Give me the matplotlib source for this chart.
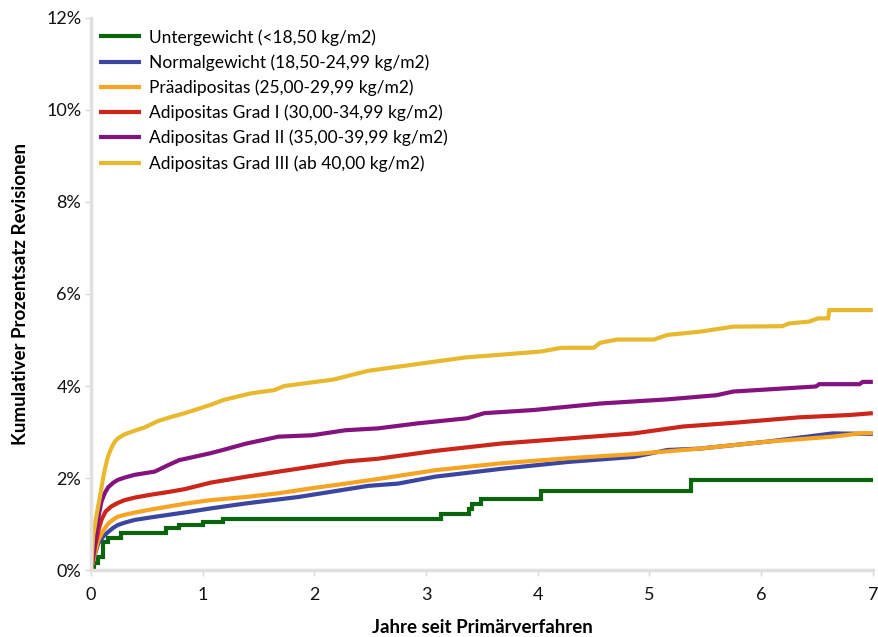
import numpy as np
import matplotlib.pyplot as plt

# Daten: Jahre, kumulativer Prozentsatz
labels = [
    "Untergewicht (<18,50 kg/m2)",
    "Normalgewicht (18,50-24,99 kg/m2)",
    "Präadipositas (25,00-29,99 kg/m2)",
    "Adipositas Grad I (30,00-34,99 kg/m2)",
    "Adipositas Grad II (35,00-39,99 kg/m2)",
    "Adipositas Grad III (ab 40,00 kg/m2)",
]
colors = ["#0b650f", "#3a46a2", "#f5a423", "#cc2519", "#84137f", "#e8b92f"]

# Untergewicht: Treppenfunktion
t_unter = [0, 0.03, 0.06, 0.11, 0.15, 0.27, 0.67, 0.79, 1.0, 1.18, 3.13, 3.38, 3.41, 3.49, 4.03, 5.37, 7.0]
y_unter = [0, 0.15, 0.29, 0.62, 0.70, 0.80, 0.91, 0.98, 1.05, 1.10, 1.21, 1.32, 1.43, 1.55, 1.71, 1.96, 1.96]

t_normal = [0, 0.03, 0.065, 0.11, 0.154, 0.20, 0.24, 0.30, 0.39, 0.52, 0.69, 0.86, 1.07, 1.39, 1.86, 2.48, 2.75, 3.08, 3.67, 4.27, 4.86, 5.16, 5.45, 6.05, 6.64, 7.0]
y_normal = [0, 0.30, 0.58, 0.73, 0.83, 0.92, 0.98, 1.03, 1.09, 1.14, 1.20, 1.26, 1.34, 1.45, 1.59, 1.83, 1.88, 2.03, 2.20, 2.35, 2.46, 2.61, 2.64, 2.79, 2.97, 2.96]

t_prae = [0, 0.03, 0.065, 0.11, 0.154, 0.20, 0.24, 0.30, 0.39, 0.52, 0.69, 0.86, 1.07, 1.39, 1.68, 1.98, 2.28, 2.57, 3.08, 3.67, 4.27, 4.86, 5.45, 6.05, 6.64, 6.88, 7.0]
y_prae = [0, 0.32, 0.65, 0.86, 1.01, 1.10, 1.16, 1.20, 1.25, 1.31, 1.38, 1.45, 1.52, 1.59, 1.67, 1.78, 1.88, 1.98, 2.17, 2.32, 2.43, 2.52, 2.64, 2.79, 2.90, 2.97, 2.98]

t_grad1 = [0, 0.036, 0.07, 0.095, 0.13, 0.18, 0.24, 0.30, 0.40, 0.54, 0.70, 0.84, 1.07, 1.39, 1.68, 1.98, 2.28, 2.57, 3.08, 3.67, 4.27, 4.86, 5.30, 5.75, 6.34, 6.79, 7.0]
y_grad1 = [0, 0.51, 0.90, 1.10, 1.27, 1.38, 1.46, 1.52, 1.58, 1.64, 1.70, 1.76, 1.90, 2.03, 2.14, 2.25, 2.36, 2.42, 2.59, 2.75, 2.86, 2.97, 3.12, 3.20, 3.32, 3.37, 3.41]

t_grad2 = [0, 0.036, 0.07, 0.095, 0.125, 0.154, 0.20, 0.24, 0.30, 0.39, 0.57, 0.69, 0.79, 1.07, 1.18, 1.39, 1.68, 1.98, 2.28, 2.57, 2.93, 3.37, 3.52, 3.97, 4.56, 5.16, 5.60, 5.75, 6.49, 6.52, 6.88, 6.91, 7.0]
y_grad2 = [0, 0.65, 1.20, 1.50, 1.68, 1.80, 1.90, 1.96, 2.01, 2.07, 2.14, 2.28, 2.39, 2.54, 2.61, 2.75, 2.90, 2.93, 3.04, 3.08, 3.19, 3.30, 3.41, 3.48, 3.62, 3.71, 3.80, 3.88, 3.99, 4.04, 4.04, 4.09, 4.09]

t_grad3 = [0, 0.02, 0.05, 0.08, 0.105, 0.125, 0.15, 0.18, 0.21, 0.24, 0.30, 0.38, 0.48, 0.60, 0.72, 0.84, 1.07, 1.19, 1.43, 1.64, 1.73, 2.17, 2.48, 2.78, 3.35, 4.03, 4.21, 4.50, 4.56, 4.71, 5.04, 5.16, 5.45, 5.75, 6.19, 6.25, 6.43, 6.51, 6.60, 6.61, 7.0]
y_grad3 = [0, 0.75, 1.20, 1.59, 1.95, 2.20, 2.45, 2.64, 2.78, 2.86, 2.95, 3.02, 3.10, 3.24, 3.33, 3.41, 3.59, 3.70, 3.84, 3.91, 4.00, 4.14, 4.33, 4.43, 4.62, 4.75, 4.83, 4.83, 4.94, 5.01, 5.01, 5.11, 5.18, 5.29, 5.30, 5.36, 5.40, 5.47, 5.47, 5.65, 5.65]

series = [
    (t_unter, y_unter, "steps-post"),
    (t_normal, y_normal, "default"),
    (t_prae, y_prae, "default"),
    (t_grad1, y_grad1, "default"),
    (t_grad2, y_grad2, "default"),
    (t_grad3, y_grad3, "default"),
]

plt.rcParams['font.family'] = ['Lato', 'DejaVu Sans']

fig = plt.figure(figsize=(8.79, 6.37), dpi=100)
ax = fig.add_axes([0.1035, 0.105, 0.8895, 0.867])

for (t, y, ds), lab, col in zip(series, labels, colors):
    ax.plot(t, y, color=col, lw=3.0, label=lab, drawstyle=ds,
            solid_capstyle='butt', solid_joinstyle='miter')

ax.set_xlim(0, 7)
ax.set_ylim(0, 12)
ax.set_xticks(range(0, 8))
ax.set_yticks(range(0, 13, 2))
ax.set_yticklabels([f"{v}%" for v in range(0, 13, 2)])

for s in ['top', 'right']:
    ax.spines[s].set_visible(False)
for s in ['left', 'bottom']:
    ax.spines[s].set_color('#e0e0e0')
    ax.spines[s].set_linewidth(2.5)
ax.tick_params(axis='both', colors='#d8d8d8', labelcolor='#111111',
               labelsize=13, length=4, width=1)
ax.tick_params(axis='x', pad=8)
ax.tick_params(axis='y', pad=3)

ax.set_xlabel("Jahre seit Primärverfahren", fontsize=13.5, fontweight='bold', labelpad=12)
ax.set_ylabel("Kumulativer Prozentsatz Revisionen", fontsize=13.5, fontweight='bold', labelpad=12)

leg = ax.legend(loc='upper left', bbox_to_anchor=(-0.007, 1.005), frameon=False,
                fontsize=12.5, handlelength=2.4, handletextpad=0.45,
                labelspacing=0.5, borderaxespad=0.4)

fig.savefig("out.png", dpi=100)
